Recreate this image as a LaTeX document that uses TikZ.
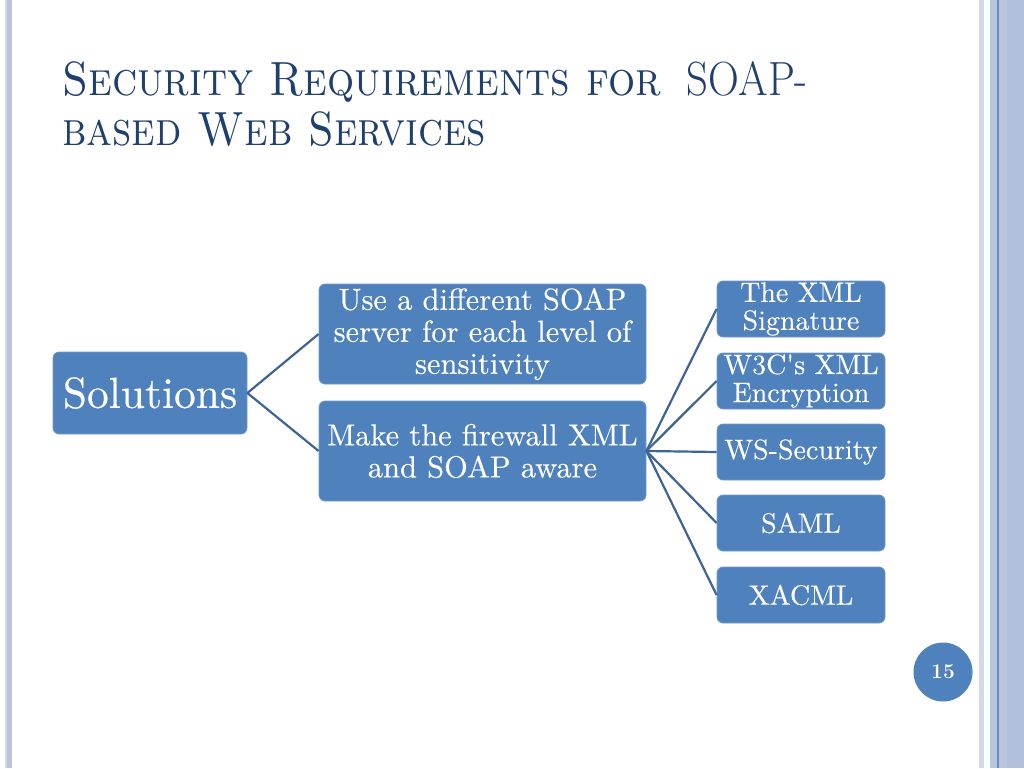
\documentclass[tikz,border=0pt]{standalone}
\usepackage{fontspec}
\usepackage{graphicx}
\usepackage{tikz}
\newfontfamily\boxfont{lmroman10-regular.otf}[FakeBold=0.3]
\definecolor{boxblue}{RGB}{79,129,189}
\definecolor{linkblue}{RGB}{62,100,150}
\definecolor{titleblue}{RGB}{31,63,110}
\definecolor{band}{RGB}{185,197,221}
\definecolor{bandlight}{RGB}{208,216,233}
\definecolor{bandshade}{RGB}{178,191,218}
\definecolor{bandline}{RGB}{108,138,190}
\begin{document}
\begin{tikzpicture}[x=1pt,y=-1pt,
  box/.style={fill=boxblue,draw=boxblue!80!white,line width=.8pt,rounded corners=6pt,
    text=white,align=center,inner sep=0pt},
  midbox/.style={box,minimum width=327pt,minimum height=100pt,font=\boxfont\fontsize{30.5}{32}\selectfont},
  leafbox/.style={box,minimum width=168pt,minimum height=56pt,font=\boxfont\fontsize{28}{28}\selectfont},
  link/.style={draw=linkblue,line width=2.2pt}]
\useasboundingbox (0,0) rectangle (1024,768);
\fill [white] (0,0) rectangle (1024,768);
% side bands
\fill [bandlight] (5,0) rectangle (7,768);
\fill [band] (7,0) rectangle (12,768);
\fill [bandlight] (979,0) rectangle (984,768);
\fill [band] (990,0) rectangle (1024,768);
\fill [bandshade] (1007,0) rectangle (1024,768);
\draw [bandline, line width=1.5pt] (998,0) -- (998,768);
% title
\node (title1) [anchor=base west, inner sep=0pt, text=titleblue, font=\fontsize{48}{50}\selectfont]
  at (62,95) {\scalebox{.89}[1]{\textsc{Security Requirements for}\hspace{.6em}SOAP-}};
\node (title2) [anchor=base west, inner sep=0pt, text=titleblue, font=\fontsize{48}{50}\selectfont]
  at (62,145) {\scalebox{.88}[1]{\textsc{based Web Services}}};
% tree
\node (sol) [box, minimum width=194pt, minimum height=82pt, font=\boxfont\fontsize{43.5}{46}\selectfont]
  at (150,393) {Solutions};
\node (srv) [midbox] at (482.5,334) {Use a different SOAP\\server for each level of\\sensitivity};
\node (fw) [midbox] at (482.5,451) {Make the firewall XML\\and SOAP aware};
\draw [link] (sol.east) -- (srv.west);
\draw [link] (sol.east) -- (fw.west);
\foreach \y/\nm/\txt in {309/sig/{The XML\\Signature}, 381/enc/{W3C\textquotesingle s XML\\Encryption},
    452/wss/WS-Security, 523/saml/SAML, 595/xacml/XACML} {
  \node (\nm) [leafbox] at (801,\y) {\txt};
  \draw [link] (fw.east) -- (\nm.west);
}
% page number
\node (page) [circle, fill=boxblue, minimum size=59pt, text=white,
  font=\bfseries\fontsize{21}{24}\selectfont] at (943,672) {15};
\end{tikzpicture}
\end{document}
